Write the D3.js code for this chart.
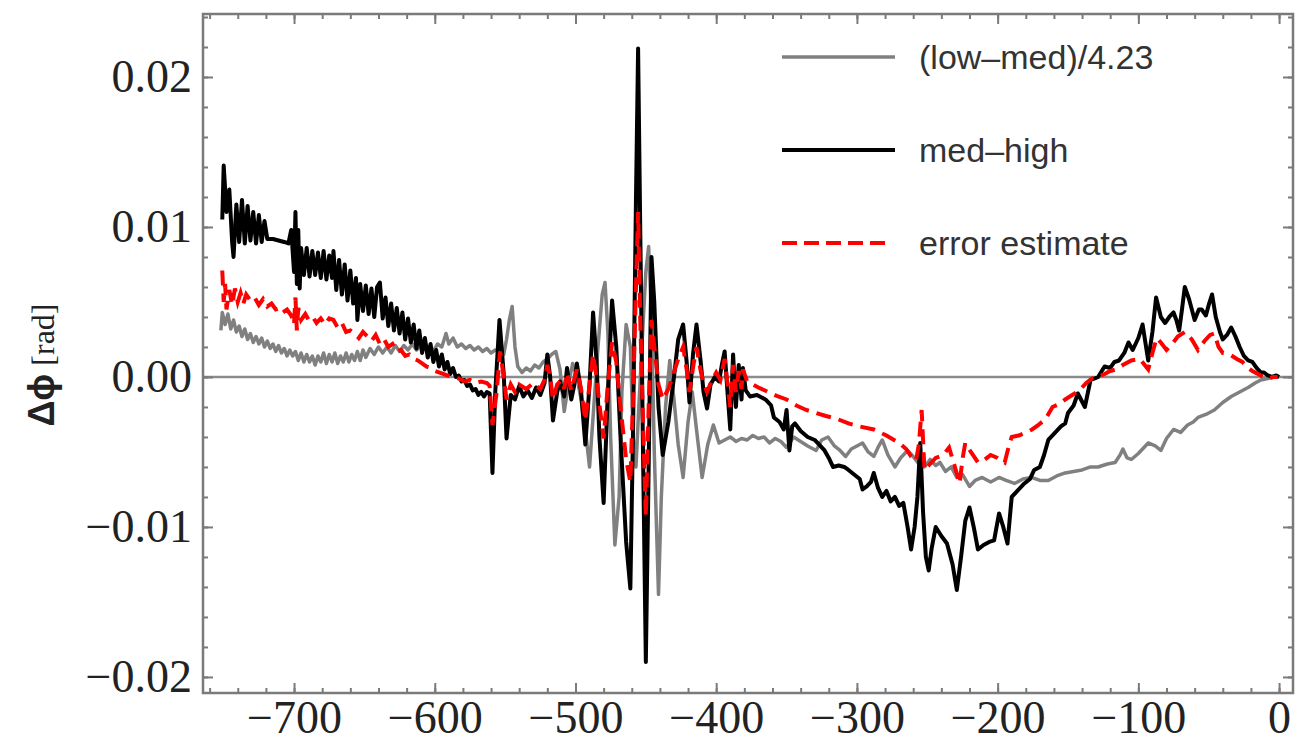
<!DOCTYPE html>
<html>
<head>
<meta charset="utf-8">
<script src="https://cdn.jsdelivr.net/npm/d3@7"></script>
<style>
  body { margin: 0; background: #fff; }
  svg { display: block; }
</style>
</head>
<body>
<div id="canvas"></div>
<script>
// values are in units of 1e-3 rad, x in the original axis units
var lowMed = [[-752,3.1],[-751,4.3],[-749,3.5],[-747,4.2],[-745,3.2],[-743,3.8],[-741,3.0],[-739,3.4],[-737,2.7],[-735,3.2],
  [-733,2.5],[-731,2.9],[-729,2.3],[-727,2.7],[-725,2.2],[-723,2.6],[-721,2.0],[-719,2.4],[-717,1.9],[-715,2.2],
  [-713,1.7],[-711,2.1],[-709,1.6],[-707,1.9],[-705,1.4],[-703,1.8],[-701,1.4],[-699,1.7],[-697,1.1],[-695,1.6],
  [-693,1.0],[-691,1.5],[-689,1.0],[-687,1.4],[-685,0.8],[-683,1.4],[-681,1.0],[-679,1.6],[-677,0.9],[-675,1.5],
  [-673,1.0],[-671,1.6],[-669,0.9],[-667,1.4],[-665,1.0],[-663,1.6],[-661,1.0],[-659,1.5],[-657,1.1],[-655,1.7],
  [-653,1.1],[-651,1.8],[-649,1.3],[-646,1.9],[-643,1.5],[-640,2.0],[-637,1.6],[-634,2.0],[-631,1.6],[-628,2.1],
  [-625,1.7],[-622,2.1],[-619,1.8],[-616,2.2],[-613,1.8],[-610,2.1],[-607,1.9],[-604,2.0],[-601,1.7],[-598,2.2],
  [-595,2.0],[-592,2.9],[-590,2.2],[-587,2.6],[-584,2.0],[-581,2.2],[-578,1.9],[-575,2.1],[-572,1.8],[-569,2.0],
  [-566,1.7],[-563,1.9],[-560,1.6],[-557,1.8],[-554,1.7],[-551,1.5],[-549,2.5],[-547,3.8],[-545,4.7],[-543,2.0],
  [-541,0.7],[-538,0.3],[-535,0.6],[-532,0.4],[-529,0.8],[-526,0.6],[-523,1.0],[-520,1.2],[-517,1.5],[-514,1.7],
  [-511,0.5],[-508,-2.3],[-505,-0.5],[-502,0.9],[-499,0.0],[-496,-1.5],[-493,-3.5],[-490,-6.0],[-487,-2.0],[-484,2.0],
  [-481,5.5],[-479,6.3],[-477,3.0],[-475,-4.0],[-472,-11.2],[-469,-8.0],[-467,-1.0],[-464,3.5],[-461,2.0],[-459,-4.0],
  [-457,-6.0],[-455,-2.0],[-452,3.5],[-450,7.0],[-448,8.7],[-446,4.0],[-444,-5.0],[-441,-14.5],[-439,-8.0],[-436,-2.0],
  [-433,1.1],[-430,-1.5],[-427,-4.5],[-423.5,-6.7],[-420,-3.0],[-417,-1.0],[-414,-3.5],[-410,-6.7],[-406,-4.5],[-402,-3.2],
  [-398,-4.4],[-394,-4.2],[-390,-4.0],[-386,-4.3],[-382,-4.1],[-378,-4.2],[-374,-3.9],[-370,-4.1],[-366,-4.0],[-362,-4.4],
  [-358,-4.1],[-354,-4.3],[-350,-4.7],[-345,-4.0],[-340,-4.3],[-335,-4.6],[-329,-4.9],[-325,-4.2],[-320.5,-4.0],[-316,-4.6],
  [-312,-4.9],[-308,-5.3],[-304,-4.8],[-300,-4.6],[-296,-4.4],[-292,-5.0],[-288,-5.3],[-285,-4.7],[-282,-4.2],[-278,-5.2],
  [-273,-6.0],[-269,-5.4],[-264,-4.9],[-260,-5.3],[-256,-5.8],[-252,-6.0],[-248,-5.5],[-244,-5.9],[-241,-5.7],[-237,-6.3],
  [-233,-6.0],[-229,-6.7],[-225,-6.5],[-220,-7.3],[-216,-6.9],[-211,-6.7],[-205,-7.0],[-199,-6.7],[-194,-6.9],[-188,-7.1],
  [-182,-6.8],[-176,-6.7],[-170,-6.9],[-164,-6.9],[-158,-6.6],[-152,-6.4],[-146,-6.3],[-140,-6.2],[-134,-6.0],[-128.6,-6.0],
  [-122,-5.8],[-116.5,-5.7],[-113,-5.2],[-111,-4.8],[-108,-5.4],[-105,-5.5],[-100,-5.1],[-96,-4.7],[-93,-4.4],[-88,-4.6],
  [-84,-4.9],[-80,-4.1],[-75,-3.5],[-70,-3.7],[-65,-3.2],[-61,-3.0],[-57.6,-2.7],[-52,-2.5],[-46,-2.2],[-40,-1.7],
  [-34,-1.3],[-28,-1.0],[-22,-0.7],[-17,-0.4],[-13,-0.2],[-8,-0.1],[-4,0.0],[0,0.0]];

var medHigh = [[-751,10.5],[-750,14.1],[-748,11.0],[-746,12.5],[-744,9.0],[-743,8.0],[-741,11.5],[-739,9.0],[-737,11.8],[-735,8.9],
  [-733,11.4],[-731,9.1],[-729,11.0],[-727,8.9],[-725,10.8],[-723,9.0],[-721,10.4],[-719,9.2],[-715,9.2],[-711,9.1],
  [-707,9.0],[-704,8.9],[-702,9.8],[-700,7.0],[-699,11.0],[-698,6.2],[-697,9.8],[-696,5.9],[-695,8.6],[-693,6.8],
  [-691,8.6],[-689,6.7],[-687,8.4],[-685,6.8],[-683,8.3],[-681,6.6],[-679,8.4],[-677,6.5],[-675,8.1],[-673,6.6],
  [-672,8.4],[-670,5.8],[-668,7.8],[-666,5.5],[-664,7.5],[-662,5.1],[-660,7.1],[-658,4.9],[-656,6.6],[-655,3.8],
  [-653,6.2],[-651,4.4],[-649,6.1],[-647,4.2],[-645,5.9],[-643,4.0],[-641,6.0],[-639,6.3],[-637,3.9],[-635,5.3],
  [-633,3.4],[-631,4.9],[-629,3.1],[-627,4.6],[-625,2.9],[-623,4.3],[-621,2.5],[-619,3.9],[-617,2.3],[-615,3.5],
  [-613,1.9],[-611,3.1],[-609,1.6],[-607,2.6],[-605,1.3],[-603,2.2],[-601,1.0],[-599,1.8],[-597,0.7],[-595,1.5],
  [-593,0.5],[-591,1.0],[-589,0.2],[-587,0.6],[-585,0.0],[-583,0.1],[-581,-0.3],[-579,-0.2],[-577,-0.6],[-575,-0.5],
  [-573,-0.9],[-571,-0.8],[-569,-1.2],[-567,-1.0],[-565,-1.3],[-563,-1.0],[-561,-1.1],[-559,-6.4],[-557,-1.0],[-554,3.8],
  [-551,0.2],[-549,-4.1],[-546,-1.2],[-543,-1.5],[-540,-0.6],[-537,-1.3],[-534,-0.9],[-531,-1.4],[-528,-0.7],[-525,-1.2],
  [-522,-0.4],[-520,1.5],[-518,0.0],[-516,-2.9],[-513,-1.0],[-511,-0.3],[-508,-1.3],[-506,0.6],[-503,-1.5],[-501,-0.6],
  [-499,0.9],[-496,-1.0],[-493,-4.5],[-490,-0.5],[-487.5,4.3],[-485,1.0],[-483,-4.0],[-480,-8.4],[-477,-1.0],[-474,5.1],
  [-471,2.0],[-468,-4.0],[-464,-11.0],[-461,-14.1],[-459,-3.0],[-457,12.0],[-455.5,21.9],[-454,10.0],[-452,-5.0],[-450,-19.0],
  [-448,-6.0],[-446,8.0],[-444,5.0],[-441,-2.0],[-438,-5.2],[-434,-3.0],[-430,0.0],[-427,2.5],[-423.5,3.5],[-421,1.0],
  [-419,-1.7],[-416.5,1.5],[-414,3.5],[-411,1.0],[-409,-1.0],[-406.5,-2.1],[-404,-0.5],[-401,0.0],[-398,-0.3],[-396,0.8],
  [-394,1.7],[-392,-1.0],[-390,-3.5],[-388,1.5],[-386,-2.0],[-384,0.8],[-382,-1.5],[-381,0.6],[-379,-0.9],[-376,-1.3],
  [-371,-1.2],[-365,-1.5],[-361,-1.9],[-359,-2.7],[-355,-3.0],[-352,-3.5],[-350,-2.2],[-348,-4.9],[-346,-3.3],[-344,-3.1],
  [-340,-3.6],[-335,-4.0],[-330,-4.2],[-326,-4.6],[-323,-4.9],[-320,-5.4],[-317,-6.0],[-313,-5.9],[-309,-6.0],[-306,-6.2],
  [-302,-6.5],[-298,-6.8],[-296,-7.5],[-293,-7.3],[-290,-7.0],[-288,-6.4],[-285,-7.4],[-282,-8.0],[-279,-7.6],[-276,-8.3],
  [-273,-8.0],[-270,-8.6],[-267,-8.4],[-264,-10.0],[-261.5,-11.5],[-259,-10.0],[-257,-8.0],[-255,-4.4],[-253,-9.0],[-251,-12.0],
  [-249,-12.9],[-247,-11.5],[-244,-10.0],[-240,-10.6],[-236,-11.1],[-232,-12.5],[-229,-14.2],[-226,-12.0],[-223,-9.6],[-220,-8.7],
  [-217,-10.0],[-214,-11.5],[-210,-11.2],[-206,-11.0],[-202.5,-10.9],[-199,-9.1],[-196,-10.0],[-193,-11.1],[-190,-8.0],[-186,-7.6],
  [-181,-7.1],[-177,-6.8],[-174,-6.2],[-170,-6.0],[-167,-5.2],[-164,-4.2],[-160,-3.8],[-155,-3.3],[-152,-3.1],[-150,-2.4],
  [-146,-1.9],[-143,-1.1],[-138,-2.0],[-134,-0.2],[-131,-0.1],[-128.6,0.0],[-126,0.4],[-124,0.7],[-120,0.6],[-117,1.0],
  [-113.7,1.1],[-110,1.6],[-107,2.3],[-104,1.8],[-100,2.6],[-97,3.5],[-93,1.1],[-90,3.0],[-87.4,5.3],[-84,4.0],
  [-81,3.6],[-78,4.0],[-75,4.3],[-73,3.8],[-71,3.1],[-69,4.5],[-67,6.0],[-64,5.2],[-62,4.5],[-60,3.8],
  [-57,4.5],[-55,4.5],[-52,4.1],[-50,4.8],[-47.6,5.5],[-45,4.0],[-42,3.0],[-40,2.5],[-37,2.8],[-34,3.3],
  [-31,2.7],[-28,2.0],[-25,1.4],[-22,1.1],[-19,1.0],[-16,0.6],[-13,0.3],[-10.7,0.3],[-8,0.1],[-5,0.0],[-2,0.1],[0,0.0]];

var errEst = [[-751,7.1],[-750,5.0],[-749,6.2],[-748,4.5],[-746,5.8],[-744,4.8],[-742,5.9],[-740,5.0],[-738,5.6],[-736,4.9],
  [-734,5.5],[-731,5.1],[-728,5.3],[-725,4.8],[-722,5.2],[-719,4.7],[-716,4.9],[-713,4.5],[-710,4.6],[-708,4.3],
  [-705,4.5],[-702,4.1],[-700,3.5],[-699,5.3],[-698,3.1],[-697,4.6],[-695,3.8],[-692,4.2],[-689,3.7],[-686,3.9],
  [-684,3.6],[-681,3.9],[-678,3.5],[-675,3.9],[-672,3.8],[-669,3.3],[-666,3.6],[-663,3.0],[-660,3.1],[-657,2.9],
  [-654,2.6],[-651,3.0],[-648,2.7],[-645,2.4],[-642,2.8],[-639,2.2],[-636,2.5],[-633,2.0],[-630,2.2],[-627,1.7],
  [-624,1.8],[-621,1.4],[-618,1.5],[-615,1.2],[-612,1.1],[-609,0.9],[-606,0.7],[-603,0.6],[-600,0.4],[-597,0.3],
  [-594,0.2],[-591,0.1],[-587,0.0],[-583,-0.1],[-579,-0.3],[-575,-0.2],[-571,-0.4],[-567,-0.3],[-563,-0.4],[-561,-0.6],
  [-559,-3.2],[-556,-1.0],[-553.6,1.7],[-551,0.0],[-549,-1.5],[-546,-0.5],[-543,-1.0],[-540,-0.5],[-535,-0.8],[-530,-0.4],
  [-525,-0.8],[-522,-0.2],[-520,0.8],[-518,0.0],[-516,-1.5],[-513,-0.5],[-510,-0.2],[-508,-0.8],[-506,0.3],[-503,-0.9],
  [-499,0.5],[-496,-0.8],[-493,-2.9],[-490,-0.5],[-487.5,1.5],[-485,0.0],[-483,-1.8],[-480,-4.1],[-477,-0.5],[-474,2.3],
  [-471,1.0],[-468,-2.0],[-464,-5.5],[-461,-7.0],[-459,-1.0],[-457,6.0],[-455.5,11.0],[-454,4.0],[-452,-3.0],[-450,-9.3],
  [-448,-2.0],[-446,3.8],[-444,2.0],[-441,-0.5],[-438,-1.5],[-434,-0.8],[-430,0.3],[-427,1.2],[-423.5,2.0],[-421,0.5],
  [-419,-1.0],[-416.5,0.6],[-414,2.0],[-411,0.4],[-409,-0.4],[-406.5,-1.0],[-403,-0.2],[-400,0.3],[-397,-0.2],[-394,1.2],
  [-392,-0.4],[-390,-2.0],[-388,0.8],[-386,-1.0],[-384,0.4],[-382,-0.8],[-381,0.5],[-378,-0.3],[-376,-0.4],[-370,-0.7],
  [-363,-1.0],[-356,-1.3],[-350,-1.5],[-343,-1.9],[-336,-2.2],[-329,-2.4],[-322,-2.6],[-314,-2.8],[-306,-3.1],[-298,-3.3],
  [-288,-3.5],[-279,-3.9],[-270,-4.4],[-265,-4.8],[-261.5,-5.3],[-258,-5.6],[-256,-4.5],[-254,-2.2],[-252,-6.2],[-248,-5.8],
  [-244,-5.4],[-241,-5.3],[-237,-5.0],[-234.5,-4.7],[-231,-5.8],[-227,-7.1],[-225,-5.5],[-223,-4.4],[-219,-5.0],[-214,-5.7],
  [-209,-5.5],[-205,-5.2],[-200,-5.4],[-195,-5.7],[-192,-4.6],[-190,-4.0],[-185,-3.9],[-180,-3.7],[-175.5,-3.5],[-171,-3.2],
  [-166,-2.8],[-161,-2.0],[-156,-1.8],[-152,-1.5],[-147,-1.2],[-142,-0.9],[-137,-0.4],[-133,-0.1],[-128.6,0.0],[-124,0.2],
  [-120,0.4],[-116,0.5],[-111,0.8],[-105,1.1],[-99,1.2],[-93,0.5],[-90,1.6],[-87,2.6],[-84,2.3],[-80,1.8],
  [-76,2.2],[-72,2.7],[-67,3.0],[-62,2.5],[-57.6,1.8],[-53,2.4],[-49,2.8],[-46,2.9],[-43,2.0],[-40,1.6],
  [-35,1.5],[-30,1.2],[-26,1.0],[-22,0.6],[-19,0.4],[-15,0.2],[-11,0.0],[-7,-0.1],[-4,0.0],[-1,0.0]];

var seriesNames = ['(low\u2013med)/4.23', 'med\u2013high', 'error estimate'];
var xTicks = [-700, -600, -500, -400, -300, -200, -100, 0];
var xTickLabels = ['\u2212700', '\u2212600', '\u2212500', '\u2212400', '\u2212300', '\u2212200', '\u2212100', '0'];
var yTicks = [-20, -10, 0, 10, 20];
var yTickLabels = ['\u22120.02', '\u22120.01', '0.00', '0.01', '0.02'];

function drawChart() {
    var width = 1297, height = 740;
    var plotLeft = 203, plotRight = 1293, plotTop = 14, plotBottom = 693;
    var frameColor = '#7a7a7a';

    var x = d3.scaleLinear().domain([-764.7, 9.9]).range([plotLeft, plotRight]);
    var y = d3.scaleLinear().domain([-21.07, 24.2]).range([plotBottom, plotTop]);

    var svg = d3.select('#canvas').append('svg')
        .attr('width', width)
        .attr('height', height);

    svg.append('defs').append('clipPath').attr('id', 'plot')
        .append('rect')
        .attr('x', plotLeft).attr('y', plotTop)
        .attr('width', plotRight - plotLeft).attr('height', plotBottom - plotTop);

    // zero line
    svg.append('line')
        .attr('x1', plotLeft).attr('x2', plotRight)
        .attr('y1', y(0)).attr('y2', y(0))
        .attr('stroke', '#8c8c8c')
        .attr('stroke-width', 2.5);

    var line = d3.line()
        .x(function(d) { return x(d[0]); })
        .y(function(d) { return y(d[1]); });

    var plot = svg.append('g').attr('clip-path', 'url(#plot)');

    plot.append('path').datum(lowMed)
        .attr('d', line)
        .attr('fill', 'none')
        .attr('stroke', '#808080')
        .attr('stroke-width', 3.5)
        .attr('stroke-linejoin', 'round');

    plot.append('path').datum(medHigh)
        .attr('d', line)
        .attr('fill', 'none')
        .attr('stroke', '#000')
        .attr('stroke-width', 4)
        .attr('stroke-linejoin', 'round');

    plot.append('path').datum(errEst)
        .attr('d', line)
        .attr('fill', 'none')
        .attr('stroke', '#ff0000')
        .attr('stroke-width', 4)
        .attr('stroke-dasharray', '15,8');

    // frame with ticks on all four sides
    var xMinor = d3.range(-760, 1, 20);
    var yMinor = d3.range(-20, 25, 2);

    function styleAxis(g) {
        g.select('.domain').remove();
        g.selectAll('line').attr('stroke', frameColor).attr('stroke-width', 2);
        g.selectAll('text')
            .attr('font-family', '"Liberation Serif", "Times New Roman", serif')
            .attr('font-size', 46)
            .attr('fill', '#222');
    }

    svg.append('g').attr('transform', 'translate(0,' + plotBottom + ')')
        .call(d3.axisBottom(x).tickValues(xMinor).tickSize(-5).tickFormat(''))
        .call(styleAxis);
    svg.append('g').attr('transform', 'translate(0,' + plotBottom + ')')
        .call(d3.axisBottom(x).tickValues(xTicks).tickSize(-10).tickPadding(7)
            .tickFormat(function(d, i) { return xTickLabels[i]; }))
        .call(styleAxis);
    svg.append('g').attr('transform', 'translate(0,' + plotTop + ')')
        .call(d3.axisTop(x).tickValues(xMinor).tickSize(-5).tickFormat(''))
        .call(styleAxis);
    svg.append('g').attr('transform', 'translate(0,' + plotTop + ')')
        .call(d3.axisTop(x).tickValues(xTicks).tickSize(-10).tickFormat(''))
        .call(styleAxis);

    svg.append('g').attr('transform', 'translate(' + plotLeft + ',0)')
        .call(d3.axisLeft(y).tickValues(yMinor).tickSize(-5).tickFormat(''))
        .call(styleAxis);
    svg.append('g').attr('transform', 'translate(' + plotLeft + ',0)')
        .call(d3.axisLeft(y).tickValues(yTicks).tickSize(-10).tickPadding(11)
            .tickFormat(function(d, i) { return yTickLabels[i]; }))
        .call(styleAxis);
    svg.append('g').attr('transform', 'translate(' + plotRight + ',0)')
        .call(d3.axisRight(y).tickValues(yMinor).tickSize(-5).tickFormat(''))
        .call(styleAxis);
    svg.append('g').attr('transform', 'translate(' + plotRight + ',0)')
        .call(d3.axisRight(y).tickValues(yTicks).tickSize(-10).tickFormat(''))
        .call(styleAxis);

    svg.append('rect')
        .attr('x', plotLeft).attr('y', plotTop)
        .attr('width', plotRight - plotLeft).attr('height', plotBottom - plotTop)
        .attr('fill', 'none')
        .attr('stroke', frameColor)
        .attr('stroke-width', 2.5);

    // y axis title
    var title = svg.append('text')
        .attr('transform', 'translate(54,365) rotate(-90)')
        .attr('text-anchor', 'middle')
        .attr('fill', '#222');
    title.append('tspan')
        .attr('font-family', '"Liberation Sans", Arial, sans-serif')
        .attr('font-weight', 'bold')
        .attr('font-size', 36)
        .text('\u0394\u03d5');
    title.append('tspan')
        .attr('font-family', '"Liberation Serif", "Times New Roman", serif')
        .attr('font-size', 32)
        .text(' [rad]');

    // legend
    var legendColors = ['#808080', '#000', '#ff0000'];
    var legendWidths = [3.5, 4, 4];
    var legendY = [57, 150, 243];

    var legend = svg.append('g');
    seriesNames.forEach(function(name, i) {
        legend.append('line')
            .attr('x1', 782).attr('x2', i == 2 ? 890 : 895)
            .attr('y1', legendY[i]).attr('y2', legendY[i])
            .attr('stroke', legendColors[i])
            .attr('stroke-width', legendWidths[i])
            .attr('stroke-dasharray', i == 2 ? '15,7' : null);
        legend.append('text')
            .attr('x', 919)
            .attr('y', legendY[i])
            .attr('dy', '0.35em')
            .attr('font-family', '"Liberation Sans", Arial, sans-serif')
            .attr('font-size', 34)
            .attr('fill', '#333')
            .text(name);
    });
}

drawChart();
</script>
</body>
</html>
